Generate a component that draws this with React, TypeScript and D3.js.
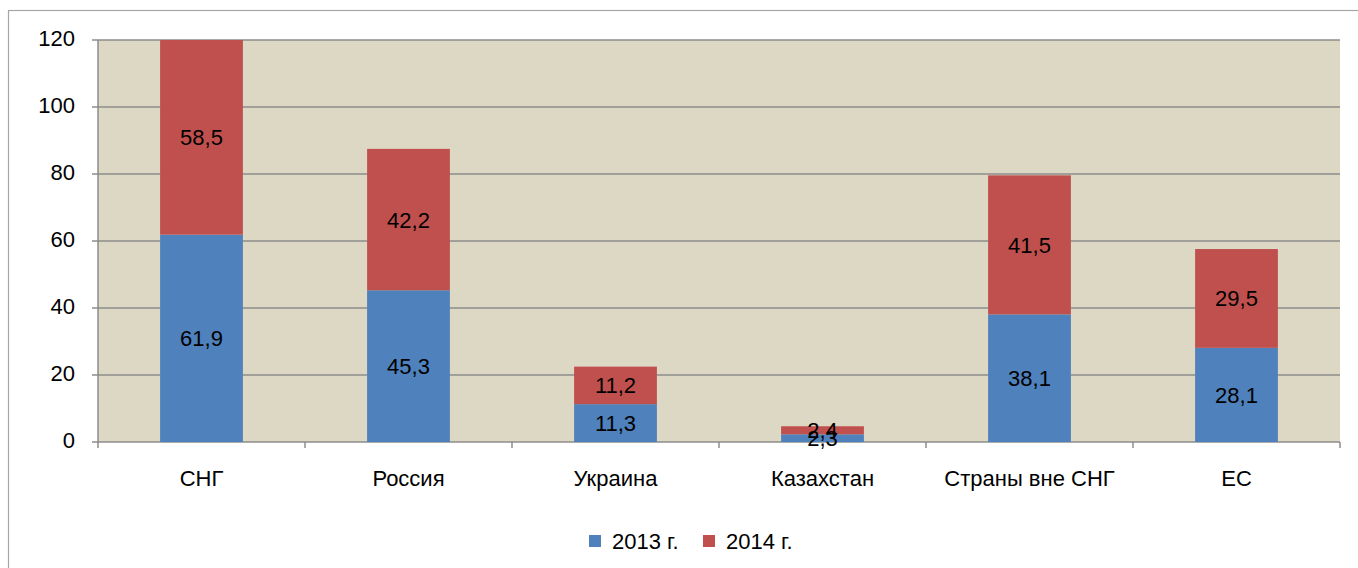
import React from 'react';
import * as d3 from 'd3';

const categories = ['СНГ', 'Россия', 'Украина', 'Казахстан', 'Страны вне СНГ', 'ЕС'];
const values2013 = [61.9, 45.3, 11.3, 2.3, 38.1, 28.1];
const values2014 = [58.5, 42.2, 11.2, 2.4, 41.5, 29.5];
const seriesNames = ['2013 г.', '2014 г.'];
const yTicks = [0, 20, 40, 60, 80, 100, 120];

const colors = ['#4f81bd', '#c0504d'];
const fmt = (v: number) => String(v).replace('.', ',');

export default function App() {
  const width = 1358;
  const height = 568;
  const plot = { left: 98, right: 1340, top: 40, bottom: 442 };

  const x = d3.scaleBand<string>()
    .domain(categories)
    .range([plot.left, plot.right])
    .paddingInner(0.6)
    .paddingOuter(0.3);
  const step = x.step();

  const y = d3.scaleLinear().domain([0, 120]).range([plot.bottom, plot.top]);

  const stacked = categories.map((c, i) => {
    const a = values2013[i];
    const b = values2014[i];
    return [
      { c, y0: 0, y1: a, v: a },
      { c, y0: a, y1: a + b, v: b },
    ];
  });

  const font = 'Liberation Sans, Arial, sans-serif';
  const fs = 22;

  return (
    <div style={{ position: 'absolute', left: 0, top: 0 }}>
      <svg width={width} height={height} style={{ display: 'block', fontFamily: font }}>
        <rect x={0} y={0} width={width} height={height} fill="#ffffff" />
        <rect x={8.5} y={10.5} width={width + 20} height={height + 20} fill="none" stroke="#a6a6a6" strokeWidth={1.2} />
        <defs>
          <clipPath id="plotClip">
            <rect x={plot.left} y={plot.top} width={plot.right - plot.left} height={plot.bottom - plot.top} />
          </clipPath>
        </defs>
        <rect x={plot.left} y={plot.top} width={plot.right - plot.left} height={plot.bottom - plot.top} fill="#ddd8c4" />

        {yTicks.map(t => (
          <g key={t}>
            <line x1={plot.left - 6} x2={plot.right} y1={y(t)} y2={y(t)} stroke="#8c8c8c" strokeWidth={1.5} />
            <text x={75} y={y(t) + 6} textAnchor="end" fontSize={fs} fill="#000">{t}</text>
          </g>
        ))}

        <line x1={plot.left} x2={plot.left} y1={plot.top} y2={plot.bottom} stroke="#8c8c8c" strokeWidth={1.5} />
        {d3.range(categories.length + 1).map(i => {
          const xx = plot.left + i * step;
          return <line key={i} x1={xx} x2={xx} y1={plot.bottom} y2={plot.bottom + 6} stroke="#8c8c8c" strokeWidth={1.5} />;
        })}

        <g clipPath="url(#plotClip)">
          {stacked.map(segs => segs.map((s, j) => (
            <rect
              key={s.c + j}
              x={x(s.c)}
              y={y(s.y1)}
              width={x.bandwidth()}
              height={y(s.y0) - y(s.y1)}
              fill={colors[j]}
            />
          )))}
        </g>

        {stacked.map(segs => segs.map((s, j) => (
          <text
            key={'l' + s.c + j}
            x={(x(s.c) ?? 0) + x.bandwidth() / 2}
            y={y((s.y0 + Math.min(s.y1, 120)) / 2) + 8}
            textAnchor="middle"
            fontSize={fs}
            fill="#000"
          >
            {fmt(s.v)}
          </text>
        )))}

        {categories.map(c => (
          <text key={c} x={(x(c) ?? 0) + x.bandwidth() / 2} y={486} textAnchor="middle" fontSize={fs} fill="#000">
            {c}
          </text>
        ))}

        {seriesNames.map((n, i) => {
          const lx = i === 0 ? 589 : 703;
          return (
            <g key={n}>
              <rect x={lx} y={535} width={12} height={12} fill={colors[i]} />
              <text x={lx + 23} y={549} fontSize={fs} fill="#000">{n}</text>
            </g>
          );
        })}
      </svg>
    </div>
  );
}
